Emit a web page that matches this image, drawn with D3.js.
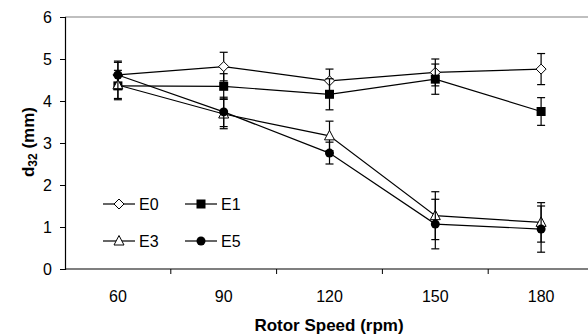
<!DOCTYPE html>
<html>
<head>
<meta charset="utf-8">
<script src="https://cdn.jsdelivr.net/npm/d3@7"></script>
<style>
  body { margin: 0; background: #fff; }
  svg { display: block; font-family: Arial, "Liberation Sans", sans-serif; }
</style>
</head>
<body>
<div id="chart"></div>
<script>
// data
const speeds = ["60", "90", "120", "150", "180"];
const yTicks = [0, 1, 2, 3, 4, 5, 6];
const e0 = [4.62, 4.82, 4.48, 4.68, 4.76];
const e0Err = [0.3, 0.34, 0.28, 0.32, 0.37];
const e1 = [4.36, 4.35, 4.16, 4.52, 3.75];
const e1Err = [0.3, 0.3, 0.37, 0.36, 0.33];
const e3 = [4.38, 3.69, 3.17, 1.27, 1.11];
const e3Err = [0.35, 0.35, 0.35, 0.57, 0.47];
const e5 = [4.62, 3.74, 2.76, 1.07, 0.95];
const e5Err = [0.33, 0.35, 0.26, 0.59, 0.55];

const series = [
  { name: "E0", vals: e0, err: e0Err, shape: "diamond" },
  { name: "E1", vals: e1, err: e1Err, shape: "square" },
  { name: "E3", vals: e3, err: e3Err, shape: "triangle" },
  { name: "E5", vals: e5, err: e5Err, shape: "circle" }
];

const W = 588, H = 335;
const mLeft = 65, mTop = 17, plotRight = 594, mBottom = 269;

const svg = d3.select("#chart").append("svg")
  .attr("width", W).attr("height", H);

const x = d3.scaleBand().domain(speeds).range([mLeft, plotRight]);
const y = d3.scaleLinear().domain([0, 6]).range([mBottom, mTop]);

// plot border (top, gray)
svg.append("line")
  .attr("x1", mLeft).attr("x2", plotRight)
  .attr("y1", y(6)).attr("y2", y(6))
  .attr("stroke", "#808080").attr("stroke-width", 1.2);

// y axis
const yAxis = svg.append("g")
  .attr("transform", "translate(" + mLeft + ",0)")
  .call(d3.axisLeft(y).tickValues(yTicks).tickFormat(d3.format("d")).tickSize(5).tickPadding(8));
yAxis.select(".domain").attr("stroke", "#000").attr("stroke-width", 1.2);
yAxis.selectAll("text").style("font-size", "16px").attr("fill", "#000");

// x axis: ticks between categories
const xAxis = svg.append("g")
  .attr("transform", "translate(0," + mBottom + ")");
xAxis.append("line")
  .attr("x1", mLeft).attr("x2", plotRight)
  .attr("stroke", "#000").attr("stroke-width", 1.2);
xAxis.selectAll(".tk")
  .data(speeds.slice(1))
  .enter().append("line")
  .attr("x1", d => x(d)).attr("x2", d => x(d))
  .attr("y1", 0).attr("y2", 5)
  .attr("stroke", "#000");
xAxis.selectAll(".lbl")
  .data(speeds)
  .enter().append("text")
  .attr("x", d => x(d) + x.bandwidth() / 2)
  .attr("y", 33)
  .attr("text-anchor", "middle")
  .style("font-size", "16px")
  .text(d => d);

// axis titles
svg.append("text")
  .attr("x", 329).attr("y", 331)
  .attr("text-anchor", "middle")
  .style("font-size", "17px").style("font-weight", "bold")
  .text("Rotor Speed (rpm)");

const yt = svg.append("text")
  .attr("transform", "translate(34,142) rotate(-90)")
  .attr("text-anchor", "middle")
  .style("font-size", "17px").style("font-weight", "bold");
yt.append("tspan").text("d");
yt.append("tspan").attr("dy", 3).style("font-size", "12px").text("32");
yt.append("tspan").attr("dy", -3).text(" (mm)");

function marker(g, shape) {
  if (shape === "diamond") {
    g.append("path").attr("d", "M0,-5L5,0L0,5L-5,0Z")
      .attr("fill", "#fff").attr("stroke", "#000").attr("stroke-width", 1);
  } else if (shape === "square") {
    g.append("rect").attr("x", -4.5).attr("y", -4.5).attr("width", 9).attr("height", 9)
      .attr("fill", "#000");
  } else if (shape === "triangle") {
    g.append("path").attr("d", "M0,-5.5L5,4L-5,4Z")
      .attr("fill", "#fff").attr("stroke", "#000").attr("stroke-width", 1);
  } else {
    g.append("circle").attr("r", 4.5).attr("fill", "#000");
  }
}

const cx = d => x(d) + x.bandwidth() / 2;
const line = d3.line().x(d => cx(d.k)).y(d => y(d.v));

series.forEach(s => {
  const pts = s.vals.map((v, i) => ({ k: speeds[i], v: v, e: s.err[i] }));
  const g = svg.append("g");
  // error bars
  pts.forEach(p => {
    const eb = g.append("g").attr("stroke", "#000").attr("stroke-width", 1.2);
    eb.append("line").attr("x1", cx(p.k)).attr("x2", cx(p.k))
      .attr("y1", y(p.v - p.e)).attr("y2", y(p.v + p.e));
    [p.v - p.e, p.v + p.e].forEach(yv => {
      eb.append("line").attr("x1", cx(p.k) - 4).attr("x2", cx(p.k) + 4)
        .attr("y1", y(yv)).attr("y2", y(yv));
    });
  });
  g.append("path").datum(pts).attr("d", line)
    .attr("fill", "none").attr("stroke", "#000").attr("stroke-width", 1.2);
  pts.forEach(p => {
    marker(g.append("g").attr("transform", "translate(" + cx(p.k) + "," + y(p.v) + ")"), s.shape);
  });
});

// legend
const legPos = [[103, 204], [185, 204], [103, 241], [185, 241]];
series.forEach((s, i) => {
  const lg = svg.append("g").attr("transform", "translate(" + legPos[i][0] + "," + legPos[i][1] + ")");
  lg.append("line").attr("x1", 0).attr("x2", 32).attr("stroke", "#000").attr("stroke-width", 1.2);
  marker(lg.append("g").attr("transform", "translate(16,0)"), s.shape);
  lg.append("text").attr("x", 36).attr("y", 6).style("font-size", "16px").text(s.name);
});
</script>
</body>
</html>
